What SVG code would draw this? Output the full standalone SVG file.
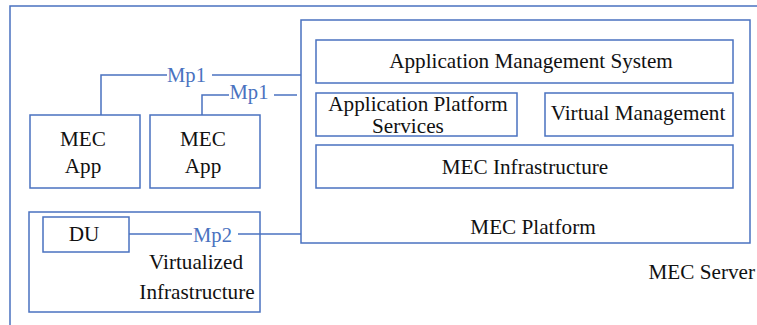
<svg xmlns="http://www.w3.org/2000/svg" width="757" height="325" viewBox="0 0 757 325">
  <style>
    .box { fill: #ffffff; stroke: #4a72c0; stroke-width: 1.5; }
    .wire { fill: none; stroke: #4a72c0; stroke-width: 1.5; }
    .t { font-family: 'Liberation Serif', 'DejaVu Serif', 'Times New Roman', serif; font-size: 21.2px; fill: #111111; }
    .lbl { font-family: 'Liberation Serif', 'DejaVu Serif', 'Times New Roman', serif; font-size: 20.6px; fill: #4a72c0; }
    .c { text-anchor: middle; }
  </style>
  <rect width="757" height="325" fill="#ffffff"/>

  <!-- MEC Server frame (continues past the right and bottom edges) -->
  <g id="mec-server">
    <polyline class="wire" points="10,326 10,6 758,6"/>
    <text class="t" x="755" y="279" text-anchor="end">MEC Server</text>
  </g>

  <!-- MEC Platform -->
  <g id="mec-platform">
    <rect class="box" x="301" y="20" width="449" height="223"/>
    <text class="t c" x="533" y="234">MEC Platform</text>
  </g>

  <g id="app-mgmt-system">
    <rect class="box" x="316" y="40" width="417" height="43"/>
    <text class="t c" x="531" y="68">Application Management System</text>
  </g>

  <g id="app-platform-services">
    <rect class="box" x="316" y="93" width="201" height="43"/>
    <text class="t c" x="418" y="111">Application Platform</text>
    <text class="t" x="372" y="133">Services</text>
  </g>

  <g id="virtual-management">
    <rect class="box" x="545" y="93" width="188" height="43"/>
    <text class="t c" x="638" y="120">Virtual Management</text>
  </g>

  <g id="mec-infrastructure">
    <rect class="box" x="316" y="145" width="417" height="43"/>
    <text class="t c" x="525" y="174">MEC Infrastructure</text>
  </g>

  <!-- MEC applications -->
  <g id="mec-app-1">
    <rect class="box" x="30" y="115" width="110" height="73"/>
    <text class="t c" x="83" y="146">MEC</text>
    <text class="t c" x="83" y="173">App</text>
  </g>

  <g id="mec-app-2">
    <rect class="box" x="150" y="115" width="110" height="73"/>
    <text class="t c" x="203" y="146">MEC</text>
    <text class="t c" x="203" y="173">App</text>
  </g>

  <!-- Virtualized infrastructure hosting the DU -->
  <g id="virtualized-infrastructure">
    <rect class="box" x="29" y="212" width="231" height="100"/>
    <text class="t c" x="196" y="269">Virtualized</text>
    <text class="t c" x="197" y="299">Infrastructure</text>
  </g>

  <g id="du">
    <rect class="box" x="43" y="217" width="86" height="35"/>
    <text class="t c" x="84" y="241">DU</text>
  </g>

  <!-- Reference points -->
  <g id="connectors">
    <polyline class="wire" points="101,115 101,75 167,75"/>
    <line class="wire" x1="212" y1="75" x2="301" y2="75"/>
    <text class="lbl c" x="186.5" y="82">Mp1</text>

    <polyline class="wire" points="202,115 202,95 229,95"/>
    <line class="wire" x1="274" y1="95" x2="297" y2="95"/>
    <text class="lbl c" x="249" y="99">Mp1</text>

    <line class="wire" x1="129" y1="234" x2="192" y2="234"/>
    <line class="wire" x1="238" y1="234" x2="301" y2="234"/>
    <text class="lbl c" x="212.5" y="242">Mp2</text>
  </g>
</svg>
